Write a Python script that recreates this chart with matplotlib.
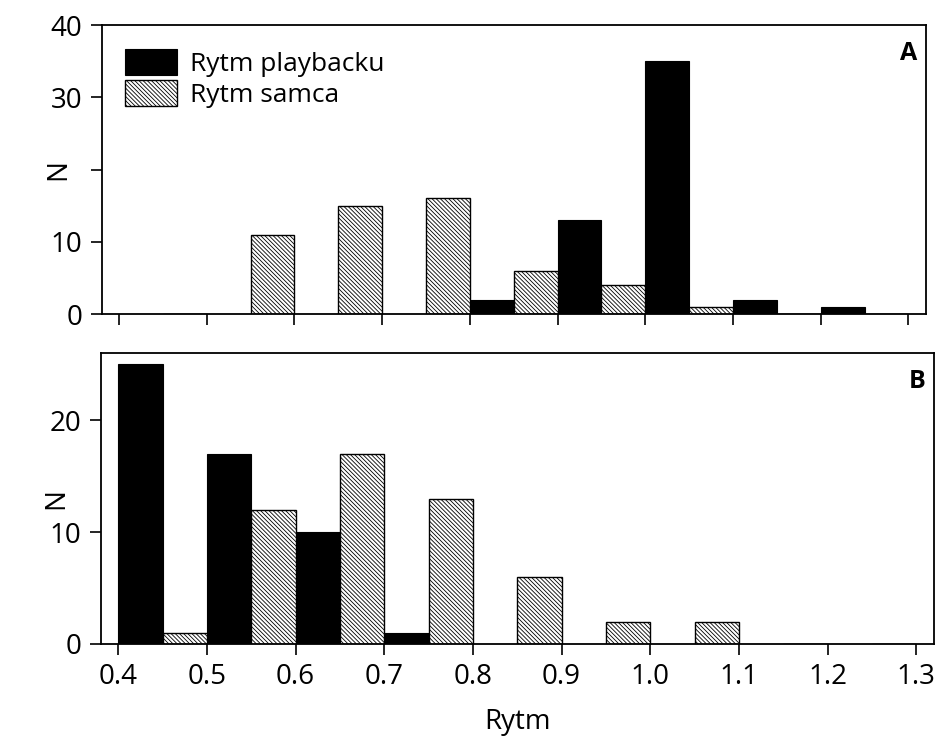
import numpy as np
import matplotlib.pyplot as plt

plt.rcParams['font.family'] = ['Open Sans', 'DejaVu Sans']
plt.rcParams['hatch.linewidth'] = 0.6

bins = np.array([0.4, 0.5, 0.6, 0.7, 0.8, 0.9, 1.0, 1.1, 1.2])
ticks = [0.4, 0.5, 0.6, 0.7, 0.8, 0.9, 1.0, 1.1, 1.2, 1.3]
tick_labels = ['0.4', '0.5', '0.6', '0.7', '0.8', '0.9', '1.0', '1.1', '1.2', '1.3']

# panel A
playback_a = [0, 0, 0, 0, 2, 13, 35, 2, 1]
samec_a = [0, 11, 15, 16, 6, 4, 1, 0, 0]
yticks_a = [0, 10, 20, 30, 40]
ylabels_a = ['0', '10', '', '30', '40']  # "20" is hidden under the N label
# panel B
playback_b = [25, 17, 10, 1, 0, 0, 0, 0, 0]
samec_b = [1, 12, 17, 13, 6, 2, 2, 0, 0]
yticks_b = [0, 10, 20]

fig = plt.figure(figsize=(9.4, 7.45), dpi=100)
axA = fig.add_axes([0.108, 0.5785, 0.877, 0.3879])
axB = fig.add_axes([0.107, 0.1356, 0.8866, 0.3904])

w = 0.05
for ax, pb, sm, lab in [(axA, playback_a, samec_a, 'A'), (axB, playback_b, samec_b, 'B')]:
    ax.bar(bins, pb, width=w, align='edge', color='black', edgecolor='black',
           linewidth=0.8, label='Rytm playbacku')
    ax.bar(bins + w, sm, width=w, align='edge', color='white', edgecolor='black',
           hatch='\\' * 8, linewidth=1.0, label='Rytm samca')
    ax.set_xlim(0.38, 1.32)
    ax.set_xticks(ticks)
    ax.tick_params(direction='out', length=8, width=1.2, labelsize=20, pad=6)
    for s in ax.spines.values():
        s.set_linewidth(1.3)
    ax.set_ylabel('N', fontsize=20)
    ax.yaxis.set_label_coords(-0.036, 0.5)
    ax.text(0.99, 0.945, lab, transform=ax.transAxes, ha='right', va='top',
            fontsize=18, fontweight='bold')

axA.set_ylim(0, 40)
axA.set_yticks(yticks_a)
axA.set_yticklabels(ylabels_a)
axA.set_xticklabels([])
axB.set_ylim(0, 26)
axB.set_yticks(yticks_b)
axB.set_xticklabels(tick_labels)
axB.set_xlabel('Rytm', fontsize=20, labelpad=12)

axA.legend(loc='upper left', frameon=False, fontsize=19, handlelength=1.97,
           handleheight=1.17, handletextpad=0.5, borderaxespad=0.5, labelspacing=0.1)

fig.savefig('out.png', dpi=100)
